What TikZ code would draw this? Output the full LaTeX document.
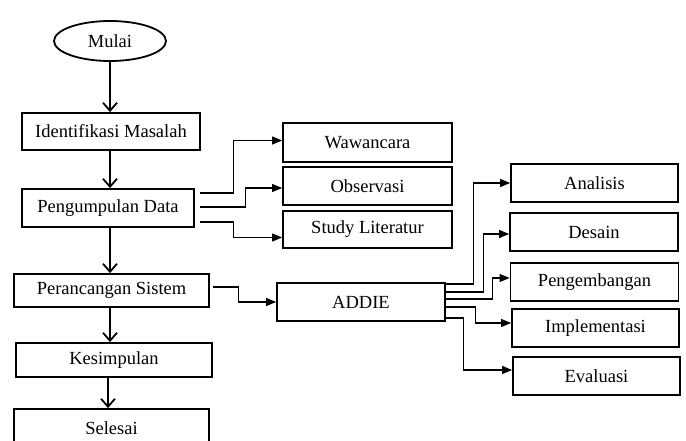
\documentclass[tikz,border=0pt]{standalone}
\usepackage{fontspec}
\setmainfont{Liberation Serif}
\usetikzlibrary{arrows.meta,positioning,shapes.geometric}
\tikzset{
  kotak/.style={draw=black,line width=1.8pt,inner sep=0pt,minimum width=168pt,
    minimum height=38pt,font=\fontsize{18.5}{21}\selectfont,align=center},
  awal/.style={kotak,ellipse,minimum width=112pt,minimum height=40pt},
  turun/.style={line width=1.8pt,-{Straight Barb[length=8pt,width=14pt]}},
  cabang/.style={line width=1.1pt,-{Triangle[length=10pt,width=8pt]}},
}

\begin{document}
\begin{tikzpicture}[x=1pt,y=-1pt]
  \clip (0,0) rectangle (686,441);
  % alur utama
  \node[awal] (mulai) at (110,41) {Mulai};
  \node[kotak,minimum width=178pt,minimum height=37pt] (idm) at (111,131.5) {Identifikasi Masalah};
  \node[kotak,minimum width=172pt] (pgd) at (108,208) {Pengumpulan Data};
  \node[kotak,minimum width=195pt,minimum height=33pt] (prs) at (111.5,290.5) {Perancangan Sistem};
  \node[kotak,minimum width=196pt,minimum height=34pt] (ksp) at (114,360) {Kesimpulan};
  \node[kotak,minimum width=195pt] (sls) at (111.5,428) {Selesai};
  % metode pengumpulan data
  \node[kotak,minimum width=169pt,minimum height=39pt] (waw) at (367.5,142.5) {Wawancara};
  \node[kotak,minimum width=169pt] (obs) at (367.5,186) {Observasi};
  \node[kotak,minimum width=169pt,minimum height=37pt] (stl) at (367.5,229.5) {Study Literatur};
  % model ADDIE
  \node[kotak] (addie) at (361,302) {ADDIE};
  \node[kotak,minimum width=167pt] (ana) at (594.5,183) {Analisis};
  \node[kotak] (des) at (594,232) {Desain};
  \node[kotak] (pgb) at (594.5,282) {Pengembangan};
  \node[kotak,minimum width=167pt] (imp) at (595.5,328) {Implementasi};
  \node[kotak,minimum width=167pt] (eva) at (596.5,376) {Evaluasi};

  \draw[turun] (mulai.south) -- (mulai.south |- idm.north);
  \draw[turun] ([xshift=-1pt]idm.south) -- ([xshift=-1pt]idm.south |- pgd.north);
  \draw[turun] ([xshift=2pt]pgd.south) -- ([xshift=2pt]pgd.south |- prs.north);
  \draw[turun] ([xshift=-1.5pt]prs.south) -- ([xshift=-1.5pt]prs.south |- ksp.north);
  \draw[turun] ([xshift=-6pt]ksp.south) -- ([xshift=-6pt]ksp.south |- sls.north);

  \draw[cabang,shorten <=5pt] ([yshift=15pt]pgd.east) -- ++(39,0) |- ([yshift=2pt]waw.west);
  \draw[cabang,shorten <=5pt] ([yshift=1pt]pgd.east) -- ++(51,0) |- ([yshift=-2pt]obs.west);
  \draw[cabang,shorten <=5pt] ([yshift=-14pt]pgd.east) -- ++(39,0) |- ([yshift=-8pt]stl.west);

  \draw[cabang,shorten <=3pt] ([yshift=3.5pt]prs.east) -- ++(29,0) |- (addie.west);

  \draw[cabang] ([yshift=18pt]addie.east) -- ++(28,0) |- (ana.west);
  \draw[cabang] ([yshift=10pt]addie.east) -- ++(38,0) |- ([yshift=-2pt]des.west);
  \draw[cabang] ([yshift=3pt]addie.east) -- ++(47,0) |- ([yshift=4pt]pgb.west);
  \draw[cabang] ([yshift=-5pt]addie.east) -- ++(30,0) |- ([yshift=5pt]imp.west);
  \draw[cabang] ([yshift=-16pt]addie.east) -- ++(18,0) |- ([yshift=6pt]eva.west);
\end{tikzpicture}
\end{document}
